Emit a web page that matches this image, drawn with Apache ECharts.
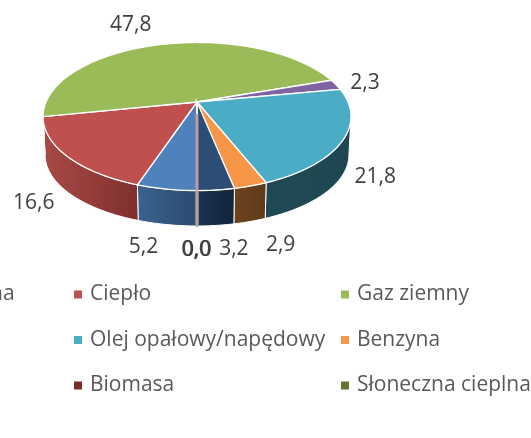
<!DOCTYPE html>
<html>
<head>
<meta charset="utf-8">
<style>
html,body{margin:0;padding:0;background:#fff;}
#main{width:531px;height:438px;}
</style>
<script src="https://cdn.jsdelivr.net/npm/echarts@6/dist/echarts.min.js"></script>
</head>
<body>
<div id="main"></div>
<script>
// dane, kolejnosc zgodnie ze wskazowkami zegara od dolu
var names = ['na', 'Ciepło', 'Gaz ziemny', 'ukryta1', 'Olej opałowy/napędowy', 'Benzyna', 'ukryta2', 'Biomasa', 'Słoneczna cieplna'];
var values = [5.2, 16.6, 47.8, 2.3, 21.8, 2.9, 3.2, 0.0, 0.0];
var colors = ['#4F81BD', '#C0504D', '#9BBB59', '#8064A2', '#4BACC6', '#F79646', '#2C4D75', '#772C2A', '#5F7530'];
var wallFrom = ['#3A6390', '#A94A47', '#6F8A3F', '#5C4876', '#1F4A55', '#6E441F', '#1A3350', '#9A8A8A', '#9A8A8A'];
var wallTo = ['#2B4A6E', '#7E2F2E', '#5F7730', '#4A3A60', '#1F4650', '#5E3A1A', '#13233A', '#9A8A8A', '#9A8A8A'];
// polozenie etykiet wzgledem srodka luku
var labelDx = [-23, -33, -33, 29, 32, 30, 18, -1, 0];
var labelDy = [58, 47, -19, -2, 37, 59, 59, 59, 59];

// rzut perspektywiczny kola
var cx = 197, k = 0.196;
var topDisc = {y0: 102, a: 151, b: 71.2};
var botDisc = {y0: 140.8, a: 149, b: 68.5};
// sciana boczna widoczna tylko z przodu, miedzy stycznymi
var wallLeft = 78.7, wallRight = 281.3;

var total = 0;
for (var i = 0; i < values.length; i++) {
	total += values[i];
}

function project(disc, deg) {
	var t = deg * Math.PI / 180;
	var u = -Math.sin(t), v = Math.cos(t), w = 1 - k * v;
	return [cx + disc.a * u / w, disc.y0 + disc.b * v / w];
}

function arc(disc, from, to) {
	var pts = [];
	var n = Math.max(1, Math.ceil((to - from) / 2));
	for (var j = 0; j <= n; j++) {
		pts.push(project(disc, from + (to - from) * j / n));
	}
	return pts;
}

// czesc wycinka nalezaca do przedniej sciany, albo null
function wallRange(from, to) {
	if (to <= wallLeft) {
		return [from, to];
	}
	if (from < wallLeft) {
		return [from, wallLeft];
	}
	if (to > wallRight) {
		return [Math.max(from, wallRight), to];
	}
	return null;
}

function sliceSeries(idx) {
	var before = 0;
	for (var i = 0; i < idx; i++) {
		before += values[i];
	}
	var from = before / total * 360;
	var to = (before + values[idx]) / total * 360;
	var thin = values[idx] < 0.05;

	return {
		type: 'custom',
		name: names[idx],
		coordinateSystem: 'none',
		silent: true,
		itemStyle: {color: colors[idx]},
		data: [values[idx]],
		renderItem: function () {
			var topArc = arc(topDisc, from, to);
			var mid = project(topDisc, (from + to) / 2);
			var children = [{
				type: 'polygon',
				z2: 2,
				shape: {points: [[cx, topDisc.y0]].concat(topArc)},
				style: {fill: colors[idx], stroke: '#fff', lineWidth: 1.3}
			}, {
				type: 'text',
				z2: 5,
				style: {
					x: mid[0] + labelDx[idx],
					y: mid[1] + labelDy[idx],
					text: values[idx].toFixed(1).replace('.', ','),
					align: 'center',
					verticalAlign: 'middle',
					fill: '#404040',
					font: '21px "Open Sans"'
				}
			}];
			var range = wallRange(from, to);
			if (range && !thin) {
				children.push({
					type: 'polygon',
					z2: 1,
					shape: {points: arc(topDisc, range[0], range[1]).concat(arc(botDisc, range[0], range[1]).reverse())},
					style: {
						fill: new echarts.graphic.LinearGradient(0, 0, 1, 0, [
							{offset: 0, color: wallFrom[idx]},
							{offset: 1, color: wallTo[idx]}
						]),
						stroke: '#fff',
						lineWidth: 1
					}
				});
			}
			if (thin) {
				// zerowe wycinki widac tylko jako szara kreske
				children.push({
					type: 'line',
					z2: 3,
					shape: {x1: mid[0], y1: mid[1] + 1, x2: mid[0], y2: mid[1] + 36},
					style: {stroke: '#AFA0A0', lineWidth: 3}
				}, {
					type: 'line',
					z2: 3,
					shape: {x1: cx, y1: topDisc.y0 + 12, x2: mid[0], y2: mid[1]},
					style: {stroke: '#C49C9C', lineWidth: 2.5}
				});
			}
			return {type: 'group', children: children};
		}
	};
}

var series = [];
for (var i = 0; i < values.length; i++) {
	series.push(sliceSeries(i));
}

function legendColumn(left, items) {
	return {
		left: left,
		top: 283,
		padding: 0,
		orient: 'vertical',
		icon: 'rect',
		itemWidth: 8,
		itemHeight: 8,
		itemGap: 22.5,
		selectedMode: false,
		data: items,
		textStyle: {color: '#595959', fontSize: 21, fontFamily: 'Open Sans', padding: [0, 0, 0, 3], height: 23, lineHeight: 23}
	};
}

var myChart = echarts.init(document.getElementById('main'));
myChart.setOption({
	animation: false,
	color: colors,
	legend: [
		legendColumn(-26, ['na']),
		legendColumn(74, ['Ciepło', 'Olej opałowy/napędowy', 'Biomasa']),
		legendColumn(341, ['Gaz ziemny', 'Benzyna', 'Słoneczna cieplna'])
	],
	series: series
});
</script>
</body>
</html>
